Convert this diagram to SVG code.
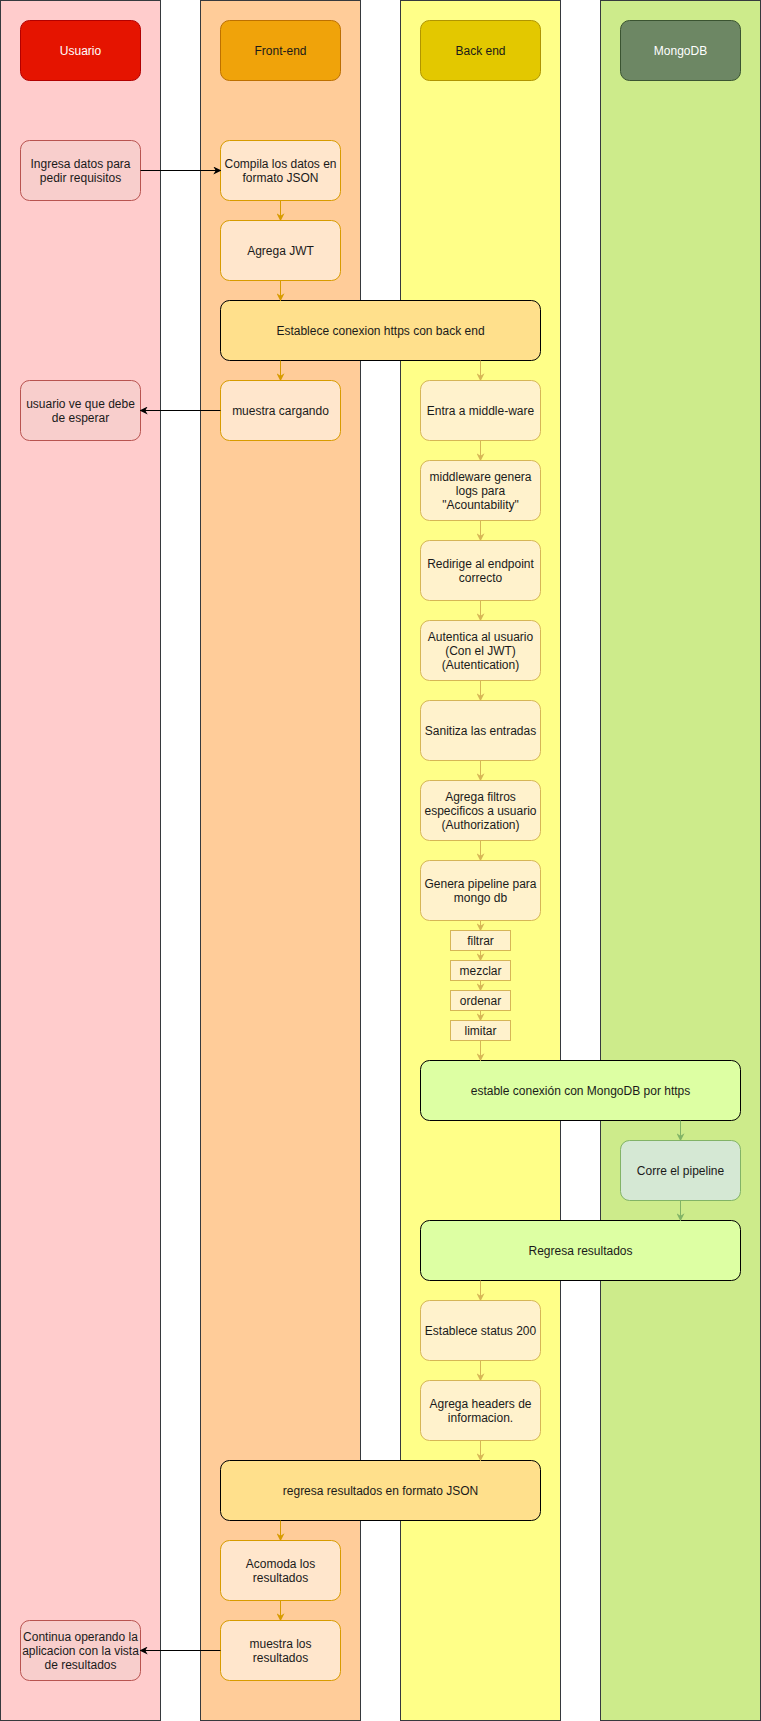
<svg xmlns="http://www.w3.org/2000/svg" width="761" height="1721" viewBox="0 0 761 1721">
<defs>
<style>
text{font-family:"Liberation Sans",Arial,sans-serif;font-size:12px;text-anchor:middle;fill:#1a1a1a}
.lane{stroke:#36393d;stroke-width:1}
.u{fill:#f8cecc;stroke:#b85450}
.f{fill:#ffe6cc;stroke:#d79b00}
.b{fill:#fff2cc;stroke:#d6b656}
.m{fill:#d5e8d4;stroke:#82b366}
.wide{stroke:#000;stroke-width:1}
.cf{stroke:#d79b00;fill:none}
.cb{stroke:#d6b656;fill:none}
.cm{stroke:#82b366;fill:none}
.ck{stroke:#000;fill:none}
.w{fill:#ffffff}
</style>
<marker id="af" viewBox="0 0 10 10" refX="9" refY="5" markerWidth="8" markerHeight="8" markerUnits="userSpaceOnUse" orient="auto"><path d="M0,0L10,5L0,10L3,5z" fill="#d79b00"/></marker>
<marker id="ab" viewBox="0 0 10 10" refX="9" refY="5" markerWidth="8" markerHeight="8" markerUnits="userSpaceOnUse" orient="auto"><path d="M0,0L10,5L0,10L3,5z" fill="#d6b656"/></marker>
<marker id="am" viewBox="0 0 10 10" refX="9" refY="5" markerWidth="8" markerHeight="8" markerUnits="userSpaceOnUse" orient="auto"><path d="M0,0L10,5L0,10L3,5z" fill="#82b366"/></marker>
<marker id="ak" viewBox="0 0 10 10" refX="9" refY="5" markerWidth="8" markerHeight="8" markerUnits="userSpaceOnUse" orient="auto"><path d="M0,0L10,5L0,10L3,5z" fill="#000"/></marker>
</defs>
<rect width="761" height="1721" fill="#ffffff"/>
<g id="lanes">
<rect class="lane" x="0.5" y="0.5" width="160" height="1720" fill="#ffcccc"/>
<rect class="lane" x="200.5" y="0.5" width="160" height="1720" fill="#ffcc99"/>
<rect class="lane" x="400.5" y="0.5" width="160" height="1720" fill="#ffff88"/>
<rect class="lane" x="600.5" y="0.5" width="160" height="1720" fill="#cdeb8b"/>
</g>
<g id="h-usuario"><rect x="20.5" y="20.5" width="120" height="60" rx="9" fill="#e51400" stroke="#b20000"/><text x="80.5" y="54.5" class="w">Usuario</text></g>
<g id="h-front"><rect x="220.5" y="20.5" width="120" height="60" rx="9" fill="#f0a30a" stroke="#bd7000"/><text x="280.5" y="54.5">Front-end</text></g>
<g id="h-back"><rect x="420.5" y="20.5" width="120" height="60" rx="9" fill="#e3c800" stroke="#b09500"/><text x="480.5" y="54.5">Back end</text></g>
<g id="h-mongo"><rect x="620.5" y="20.5" width="120" height="60" rx="9" fill="#6d8764" stroke="#3a5431"/><text x="680.5" y="54.5" class="w">MongoDB</text></g>

<g id="n-ingresa"><rect class="u" x="20.5" y="140.5" width="120" height="60" rx="9"/><text x="80.5" y="167.5">Ingresa datos para</text><text x="80.5" y="182">pedir requisitos</text></g>
<g id="n-compila"><rect class="f" x="220.5" y="140.5" width="120" height="60" rx="9"/><text x="280.5" y="167.5">Compila los datos en</text><text x="280.5" y="182">formato JSON</text></g>
<g id="n-jwt"><rect class="f" x="220.5" y="220.5" width="120" height="60" rx="9"/><text x="280.5" y="254.5">Agrega JWT</text></g>
<g id="n-conexion"><rect class="wide" x="220.5" y="300.5" width="320" height="60" rx="9" fill="#ffe08c"/><text x="380.5" y="334.5">Establece conexion https con back end</text></g>
<g id="n-cargando"><rect class="f" x="220.5" y="380.5" width="120" height="60" rx="9"/><text x="280.5" y="414.5">muestra cargando</text></g>
<g id="n-espera"><rect class="u" x="20.5" y="380.5" width="120" height="60" rx="9"/><text x="80.5" y="407.5">usuario ve que debe</text><text x="80.5" y="422">de esperar</text></g>
<g id="n-middleware"><rect class="b" x="420.5" y="380.5" width="120" height="60" rx="9"/><text x="480.5" y="414.5">Entra a middle-ware</text></g>
<g id="n-logs"><rect class="b" x="420.5" y="460.5" width="120" height="60" rx="9"/><text x="480.5" y="480.5">middleware genera</text><text x="480.5" y="494.5">logs para</text><text x="480.5" y="509">"Acountability"</text></g>
<g id="n-redirige"><rect class="b" x="420.5" y="540.5" width="120" height="60" rx="9"/><text x="480.5" y="567.5">Redirige al endpoint</text><text x="480.5" y="582">correcto</text></g>
<g id="n-autentica"><rect class="b" x="420.5" y="620.5" width="120" height="60" rx="9"/><text x="480.5" y="640.5">Autentica al usuario</text><text x="480.5" y="654.5">(Con el JWT)</text><text x="480.5" y="669">(Autentication)</text></g>
<g id="n-sanitiza"><rect class="b" x="420.5" y="700.5" width="120" height="60" rx="9"/><text x="480.5" y="734.5">Sanitiza las entradas</text></g>
<g id="n-filtros"><rect class="b" x="420.5" y="780.5" width="120" height="60" rx="9"/><text x="480.5" y="800.5">Agrega filtros</text><text x="480.5" y="814.5">especificos a usuario</text><text x="480.5" y="829">(Authorization)</text></g>
<g id="n-pipeline"><rect class="b" x="420.5" y="860.5" width="120" height="60" rx="9"/><text x="480.5" y="887.5">Genera pipeline para</text><text x="480.5" y="902">mongo db</text></g>
<g id="n-filtrar"><rect class="b" x="450.5" y="930.5" width="60" height="20"/><text x="480.5" y="944.5">filtrar</text></g>
<g id="n-mezclar"><rect class="b" x="450.5" y="960.5" width="60" height="20"/><text x="480.5" y="974.5">mezclar</text></g>
<g id="n-ordenar"><rect class="b" x="450.5" y="990.5" width="60" height="20"/><text x="480.5" y="1004.5">ordenar</text></g>
<g id="n-limitar"><rect class="b" x="450.5" y="1020.5" width="60" height="20"/><text x="480.5" y="1034.5">limitar</text></g>
<g id="n-mongoconn"><rect class="wide" x="420.5" y="1060.5" width="320" height="60" rx="9" fill="#ddffa3"/><text x="580.5" y="1094.5">estable conexión con MongoDB por https</text></g>
<g id="n-corre"><rect class="m" x="620.5" y="1140.5" width="120" height="60" rx="9"/><text x="680.5" y="1174.5">Corre el pipeline</text></g>
<g id="n-regresa"><rect class="wide" x="420.5" y="1220.5" width="320" height="60" rx="9" fill="#ddffa3"/><text x="580.5" y="1254.5">Regresa resultados</text></g>
<g id="n-status"><rect class="b" x="420.5" y="1300.5" width="120" height="60" rx="9"/><text x="480.5" y="1334.5">Establece status 200</text></g>
<g id="n-headers"><rect class="b" x="420.5" y="1380.5" width="120" height="60" rx="9"/><text x="480.5" y="1407.5">Agrega headers de</text><text x="480.5" y="1422">informacion.</text></g>
<g id="n-json"><rect class="wide" x="220.5" y="1460.5" width="320" height="60" rx="9" fill="#ffe08c"/><text x="380.5" y="1494.5">regresa resultados en formato JSON</text></g>
<g id="n-acomoda"><rect class="f" x="220.5" y="1540.5" width="120" height="60" rx="9"/><text x="280.5" y="1567.5">Acomoda los</text><text x="280.5" y="1582">resultados</text></g>
<g id="n-muestra"><rect class="f" x="220.5" y="1620.5" width="120" height="60" rx="9"/><text x="280.5" y="1647.5">muestra los</text><text x="280.5" y="1662">resultados</text></g>
<g id="n-continua"><rect class="u" x="20.5" y="1620.5" width="120" height="60" rx="9"/><text x="80.5" y="1640.5">Continua operando la</text><text x="80.5" y="1654.5">aplicacion con la vista</text><text x="80.5" y="1669">de resultados</text></g>

<g id="connectors">
<path class="ck" d="M140.5,170.5H220.5" marker-end="url(#ak)"/>
<path class="cf" d="M280.5,200.5V220.5" marker-end="url(#af)"/>
<path class="cf" d="M280.5,280.5V300.5" marker-end="url(#af)"/>
<path class="cf" d="M280.5,360.5V380.5" marker-end="url(#af)"/>
<path class="cb" d="M480.5,360.5V380.5" marker-end="url(#ab)"/>
<path class="ck" d="M220.5,410.5H140.5" marker-end="url(#ak)"/>
<path class="cb" d="M480.5,440.5V460.5" marker-end="url(#ab)"/>
<path class="cb" d="M480.5,520.5V540.5" marker-end="url(#ab)"/>
<path class="cb" d="M480.5,600.5V620.5" marker-end="url(#ab)"/>
<path class="cb" d="M480.5,680.5V700.5" marker-end="url(#ab)"/>
<path class="cb" d="M480.5,760.5V780.5" marker-end="url(#ab)"/>
<path class="cb" d="M480.5,840.5V860.5" marker-end="url(#ab)"/>
<path class="cb" d="M480.5,920.5V930.5" marker-end="url(#ab)"/>
<path class="cb" d="M480.5,950.5V960.5" marker-end="url(#ab)"/>
<path class="cb" d="M480.5,980.5V990.5" marker-end="url(#ab)"/>
<path class="cb" d="M480.5,1010.5V1020.5" marker-end="url(#ab)"/>
<path class="cb" d="M480.5,1040.5V1060.5" marker-end="url(#ab)"/>
<path class="cm" d="M680.5,1120.5V1140.5" marker-end="url(#am)"/>
<path class="cm" d="M680.5,1200.5V1220.5" marker-end="url(#am)"/>
<path class="cb" d="M480.5,1280.5V1300.5" marker-end="url(#ab)"/>
<path class="cb" d="M480.5,1360.5V1380.5" marker-end="url(#ab)"/>
<path class="cb" d="M480.5,1440.5V1460.5" marker-end="url(#ab)"/>
<path class="cf" d="M280.5,1520.5V1540.5" marker-end="url(#af)"/>
<path class="cf" d="M280.5,1600.5V1620.5" marker-end="url(#af)"/>
<path class="ck" d="M220.5,1650.5H140.5" marker-end="url(#ak)"/>
</g>
</svg>
